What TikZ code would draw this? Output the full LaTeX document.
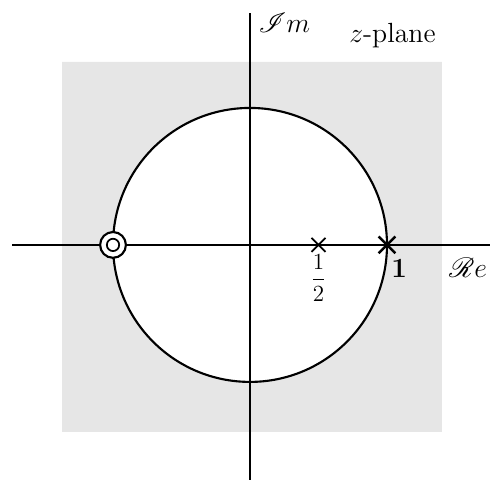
\documentclass[tikz,border=0pt]{standalone}
\usepackage{amsmath}
\usepackage{mathrsfs}
\usepackage{xcolor}
\usetikzlibrary{shapes.misc,positioning}
\definecolor{stipple}{HTML}{E6E6E6}
\tikzset{
  axis/.style  ={draw=black, line width=0.6pt},
  unit/.style  ={draw=black, line width=1.1pt},
  roc/.style   ={fill=stipple, draw=none, even odd rule},
  pole/.style  ={cross out, draw=black, line width=0.9pt, minimum size=6.4pt, inner sep=0pt},
  bigpole/.style={cross out, draw=black, line width=1.3pt, minimum size=7.4pt, inner sep=0pt},
  zero/.style  ={circle, draw=black, fill=white, line width=1.1pt, minimum size=13.4pt, inner sep=0pt},
  zin/.style   ={circle, draw=black, fill=white, line width=0.9pt, minimum size=6.4pt, inner sep=0pt},
  lab/.style   ={font=\Large, inner sep=0pt},
}

\begin{document}
\begin{tikzpicture}[x=2.5cm,y=2.5cm]
  \useasboundingbox (-1.825,-1.715) rectangle (1.752,1.788);

  % ---------------------------------------------------------------- region of convergence
  \path[roc] (-1.372,-1.365) rectangle (1.40,1.336) (0,0) circle (1);

  % ---------------------------------------------------------------- axes and unit circle
  \coordinate (xl) at (-1.737,0);
  \coordinate (xr) at (1.752,0);
  \coordinate (yb) at (0,-1.715);
  \coordinate (yt) at (0,1.69);
  \draw[axis] (xl) -- (xr);
  \draw[axis] (yb) -- (yt);
  \draw[unit] (0,0) circle (1);

  % ---------------------------------------------------------------- zero and poles
  \node[zero] (z0) at (-1,0) {};
  \node[zin]       at (z0.center) {};
  \node[pole]    (p1) at (0.5,0) {};
  \node[bigpole] (p2) at (1,0) {};

  % ---------------------------------------------------------------- labels
  \node[font=\large, inner sep=0pt, below=5pt of p1.center, anchor=north] (lhalf) {$\dfrac{1}{2}$};
  \node[lab, anchor=west] (lone) at (1.03,-0.17) {$\mathbf{1}$};
  \node[lab, anchor=west] (lre)  at (1.45,-0.17) {$\mathscr{R}e$};
  \node[lab, anchor=west] (lim)  at (0.06,1.62)  {$\mathscr{I}m$};
  \node[lab] (lpl) at (1.04,1.53) {$z$-plane};
\end{tikzpicture}
\end{document}
